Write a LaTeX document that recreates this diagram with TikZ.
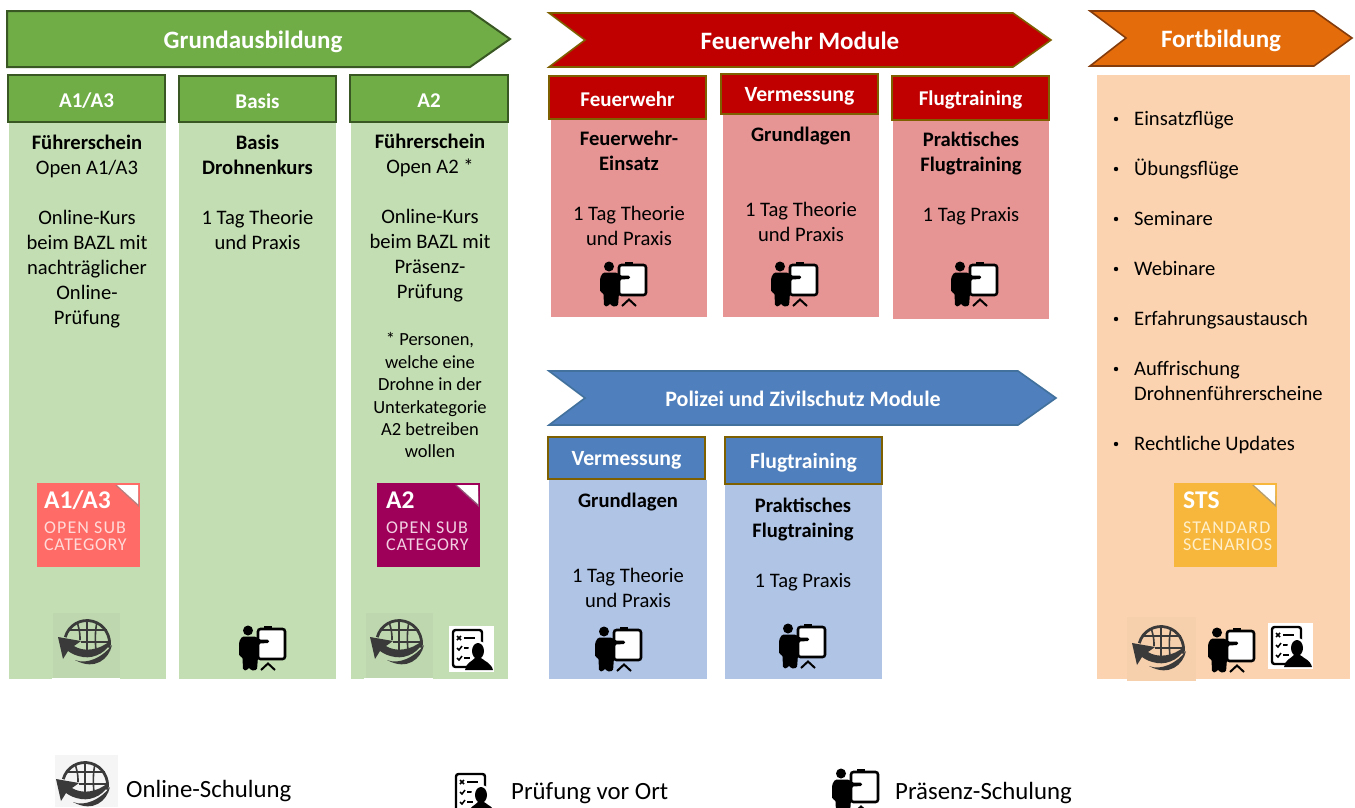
\documentclass[tikz,border=0pt]{standalone}
\usepackage{fontspec}
\setmainfont{Carlito}
\usetikzlibrary{calc}
\definecolor{gr}{HTML}{70AD47}\definecolor{grd}{HTML}{385723}\definecolor{grl}{HTML}{C4DEB3}
\definecolor{rd}{HTML}{C00000}\definecolor{rdb}{HTML}{7F6000}\definecolor{rdl}{HTML}{E69494}
\definecolor{bl}{HTML}{4F7FBC}\definecolor{blb}{HTML}{41719C}\definecolor{bll}{HTML}{B0C4E6}
\definecolor{or}{HTML}{E46C0A}\definecolor{orb}{HTML}{843C0C}\definecolor{orl}{HTML}{FBD3B0}
\definecolor{ico}{HTML}{3A3A3A}
\definecolor{bdga}{HTML}{FF6B66}\definecolor{bdgb}{HTML}{9E0059}\definecolor{bdgc}{HTML}{F6B73C}
\definecolor{bdgat}{HTML}{FFDAD8}\definecolor{bdgbt}{HTML}{F2CFE2}\definecolor{bdgct}{HTML}{FFEFCB}
\tikzset{
  x=1pt,y=-1pt,
  greenhead/.style={fill=gr,draw=grd,line width=2pt},
  redhead/.style={fill=rd,draw=rdb,line width=1.6pt},
  bluehead/.style={fill=bl,draw=rdb,line width=1.6pt},
  titletxt/.style={text=white,font=\fontsize{25}{28}\selectfont\bfseries,inner sep=0pt},
  midtitle/.style={text=white,font=\fontsize{22}{25}\selectfont\bfseries,inner sep=0pt},
  headtxt/.style={text=white,font=\fontsize{21}{24}\selectfont\bfseries,inner sep=0pt,yshift=-2pt},
  bodytxt/.style={anchor=north,inner sep=0pt,align=center,text=black,font=\fontsize{20.6}{25}\selectfont},
  smalltxt/.style={anchor=north,inner sep=0pt,align=center,text=black,font=\fontsize{18.5}{22.4}\selectfont},
  bullettxt/.style={anchor=base west,inner sep=0pt,align=left,text=black,font=\fontsize{20.6}{25}\selectfont},
  legendtxt/.style={anchor=base west,inner sep=0pt,text=black,font=\fontsize{24.8}{30}\selectfont},
}
\newcommand{\headbox}[7]{\path[#6] (#2,#3) rectangle (#4,#5);
  \node[headtxt] (#1) at ({(#2+#4)/2},{(#3+#5)/2}) {#7};}
\newcommand{\bigh}{\fontsize{21.7}{24}\selectfont}
\newcommand{\globeicon}[3]{\begin{scope}[shift={(#1,#2)},scale=#3]
  \draw[ico,line width=2.8pt] (195:22.5) arc[start angle=195,end angle=372,radius=22.5];
  \draw[ico,line width=1.6pt] (0,-23) -- (0,8);
  \draw[ico,line width=1.6pt] (-10,-21) .. controls (-7,-12) and (-7,-8) .. (-7,-3);
  \draw[ico,line width=1.6pt] (10,-21) .. controls (8,-12) and (8,-2) .. (9,7);
  \draw[ico,line width=1.6pt] (-18,-13) -- (20,-13);
  \draw[ico,line width=1.6pt] (-6,-1) -- (23,-1);
  \fill[ico] (-29,-6) -- (-6,-2) -- (-13,3) .. controls (-4,9) and (12,8) .. (24,-3)
     .. controls (22,8) and (8,16) .. (-4,14) .. controls (-10,13) and (-15,11) .. (-19,8) -- (-24,16) -- cycle;
  \fill[ico] (-12,17) .. controls (0,22) and (16,14) .. (25,2) .. controls (22,16) and (8,28) .. (-12,17) -- cycle;
\end{scope}}
\newcommand{\trainericon}[3]{\begin{scope}[shift={(#1,#2)},scale=#3]
  \fill (9,5.5) circle[radius=5];
  \draw[fill=white,line width=2.6pt,rounded corners=2.5pt] (19,4) rectangle (46,34);
  \fill (25,0.5) rectangle (33,4);
  \fill[rounded corners=1.5pt] (0,17) -- (3,11.5) -- (17,11.5) -- (20,14.5) -- (30,14.5) -- (30,18) -- (20,18.5) -- (18,45) -- (12,45.5) -- (10,42) -- (8,45.5) -- (4,45) -- (3.5,32) -- (0,31) -- cycle;
  \draw[line width=2pt] (22,45) -- (29,38.5) -- (36,45);
\end{scope}}
\newcommand{\checkicon}[3]{\begin{scope}[shift={(#1,#2)},scale=#3]
  \fill[white] (0,0) rectangle (45,46);
  \draw[line width=2.4pt,rounded corners=2.5pt] (33,36) -- (33,4) -- (4,4) -- (4,41) -- (18,41);
  \draw[line width=1.5pt] (8,10) -- (12,14) (12,10) -- (8,14);
  \draw[line width=1.7pt] (15,12) -- (26,12) (15,22) -- (23,22) (15,32) -- (21,32);
  \draw[line width=1.5pt] (8,22) -- (10,24) -- (13,20) (8,32) -- (10,34) -- (13,30);
  \fill[white] (29,25) circle[radius=10];
  \fill (29,25) ellipse[x radius=6,y radius=8];
  \fill (16,44) .. controls (17,37) and (22,36) .. (26,32) -- (32,32) .. controls (37,36) and (42,37) .. (44,44) -- cycle;
\end{scope}}
\newcommand{\badge}[9]{\begin{scope}[shift={(#2,#3)}]
  \fill[#4] (0,0) rectangle (103,84);
  \fill[black!45,opacity=.6] (78,2) -- (102,24) -- (101,3) -- cycle;
  \fill[white] (80,2) -- (101,2) -- (101,21) -- cycle;
  \node[anchor=base west,inner sep=0pt,text=white,font=\fontsize{25.5}{26}\selectfont\bfseries] (#1a) at (#9,25) {#6};
  \node[anchor=base west,inner sep=0pt,text=#5,font=\fontsize{18}{20}\selectfont\addfontfeature{LetterSpace=6}] (#1b) at (#9,50) {#7};
  \node[anchor=base west,inner sep=0pt,text=#5,font=\fontsize{18}{20}\selectfont\addfontfeature{LetterSpace=4}] (#1c) at (#9,67.5) {#8};
\end{scope}}
\begin{document}
\begin{tikzpicture}
\useasboundingbox (0,0) rectangle (1355,807);
\fill[white] (0,0) rectangle (1355,807);
% ---------- Grundausbildung
\draw[fill=gr,draw=grd,line width=2pt] (7,11) -- (470,11) -- (510,39) -- (470,67) -- (7,67) -- cycle;
\node[titletxt] (t1) at (253,42) {Grundausbildung};
\fill[grl] (9,122) rectangle (166,679);
\fill[grl] (179,122) rectangle (336,679);
\fill[grl] (351,122) rectangle (508,679);
\headbox{h1}{8}{75}{165}{122}{greenhead}{A1/A3}
\headbox{h2}{179}{76}{336}{122}{greenhead}{Basis}
\headbox{h3}{350}{75}{508}{122}{greenhead}{A2}
\node[bodytxt] (a1) at (87,132) {\strut\textbf{Führerschein}\\Open A1/A3\\[25pt]Online-Kurs\\beim BAZL mit\\nachträglicher\\Online-\\Prüfung};
\node[bodytxt] (a2) at (257.5,132) {\strut\textbf{Basis}\\\textbf{Drohnenkurs}\\[25pt]1 Tag Theorie\\und Praxis};
\node[bodytxt] (a3) at (430,131) {\strut\textbf{Führerschein}\\Open A2 *\\[25pt]Online-Kurs\\beim BAZL mit\\Präsenz-\\Prüfung};
\node[smalltxt] (a3s) at (430,330) {\strut* Personen,\\welche eine\\Drohne in der\\Unterkategorie\\A2 betreiben\\wollen};
\badge{ba}{37}{483}{bdga}{bdgat}{A1/A3}{OPEN SUB}{CATEGORY}{7}
\badge{bb}{377}{483}{bdgb}{bdgbt}{A2}{OPEN SUB}{CATEGORY}{9}
\fill[grl!97!black] (53,613) rectangle (120,678);
\fill[grl!97!black] (366,613) rectangle (433,678);
\fill[white] (52,678) rectangle (120,680);
\fill[white] (364,678) rectangle (433,680);
\globeicon{87}{643}{1}
\globeicon{399}{643}{1}
\trainericon{239}{625}{1}
\checkicon{449}{626}{1}
% ---------- Feuerwehr Module
\draw[fill=rd,draw=rdb,line width=1.6pt] (549,13) -- (1013,13) -- (1051,40) -- (1013,67) -- (549,67) -- (585,40) -- cycle;
\node[titletxt] (t2) at (800,41) {Feuerwehr Module};
\fill[rdl] (551,119) rectangle (707,317);
\fill[rdl] (723,114) rectangle (879,317);
\fill[rdl] (893,120) rectangle (1049,319);
\headbox{h4}{549}{76}{706}{119}{redhead}{Feuerwehr}
\headbox{h5}{721}{74}{878}{114}{redhead}{\bigh Vermessung}
\headbox{h6}{892}{76}{1049}{120}{redhead}{Flugtraining}
\node[bodytxt] (b1) at (629,128) {\strut\textbf{Feuerwehr-}\\\textbf{Einsatz}\\[25pt]1 Tag Theorie\\und Praxis};
\node[bodytxt] (b2) at (801,124) {\strut\textbf{Grundlagen}\\[50pt]1 Tag Theorie\\und Praxis};
\node[bodytxt] (b3) at (971,129) {\strut\textbf{Praktisches}\\\textbf{Flugtraining}\\[25pt]1 Tag Praxis};
\trainericon{600}{261}{1}
\trainericon{771}{261}{1}
\trainericon{951}{261}{1}
% ---------- Polizei
\draw[fill=bl,draw=blb,line width=1.6pt] (549,371) -- (1018,371) -- (1056,398) -- (1018,425) -- (549,425) -- (585,398) -- cycle;
\node[midtitle] (t3) at (803,399) {Polizei und Zivilschutz Module};
\fill[bll] (549,480) rectangle (707,679);
\fill[bll] (725,484) rectangle (882,679);
\headbox{h7}{548}{437}{705}{479}{bluehead}{\bigh Vermessung}
\headbox{h8}{725}{437}{882}{484}{bluehead}{\bigh Flugtraining}
\node[bodytxt] (c1) at (628,490) {\strut\textbf{Grundlagen}\\[50pt]1 Tag Theorie\\und Praxis};
\node[bodytxt] (c2) at (803,495) {\strut\textbf{Praktisches}\\\textbf{Flugtraining}\\[25pt]1 Tag Praxis};
\trainericon{595}{626}{1}
\trainericon{779}{623}{1}
% ---------- Fortbildung
\draw[fill=or,draw=orb,line width=1.6pt] (1090,11) -- (1314,11) -- (1352,38) -- (1314,66) -- (1090,66) -- (1126,38) -- cycle;
\node[titletxt] (t4) at (1221,41) {Fortbildung};
\fill[orl] (1097,75) rectangle (1350,679);
\foreach \n/\yy/\tx in {d1/125/Einsatzflüge,d2/175/Übungsflüge,d3/225/Seminare,d4/275/Webinare,d5/325/Erfahrungsaustausch,d6/375/Auffrischung,d7/450/Rechtliche Updates}{
  \node[bullettxt] (\n) at (1134,\yy) {\tx};
  \fill (1116,\yy-6) circle[radius=2.2];
}
\node[bullettxt] (d6b) at (1134,400) {Drohnenführerscheine};
\badge{bc}{1174}{483}{bdgc}{bdgct}{STS}{STANDARD}{SCENARIOS}{9}
\fill[orl!98!black] (1127,617) rectangle (1196,681);
\globeicon{1161}{649}{1}
\trainericon{1208}{627}{1}
\checkicon{1268}{623}{1}
% ---------- Legend
\fill[black!4] (55,755) rectangle (118,807);
\globeicon{85}{785}{1}
\node[legendtxt] (l1) at (126,797) {Online-Schulung};
\begin{scope}
  \clip (400,750) rectangle (1000,807);
  \checkicon{452}{770}{1}
  \trainericon{832}{768}{1}
\end{scope}
\node[legendtxt] (l2) at (511,799) {Prüfung vor Ort};
\node[legendtxt] (l3) at (895,799) {Präsenz-Schulung};
\end{tikzpicture}
\end{document}
